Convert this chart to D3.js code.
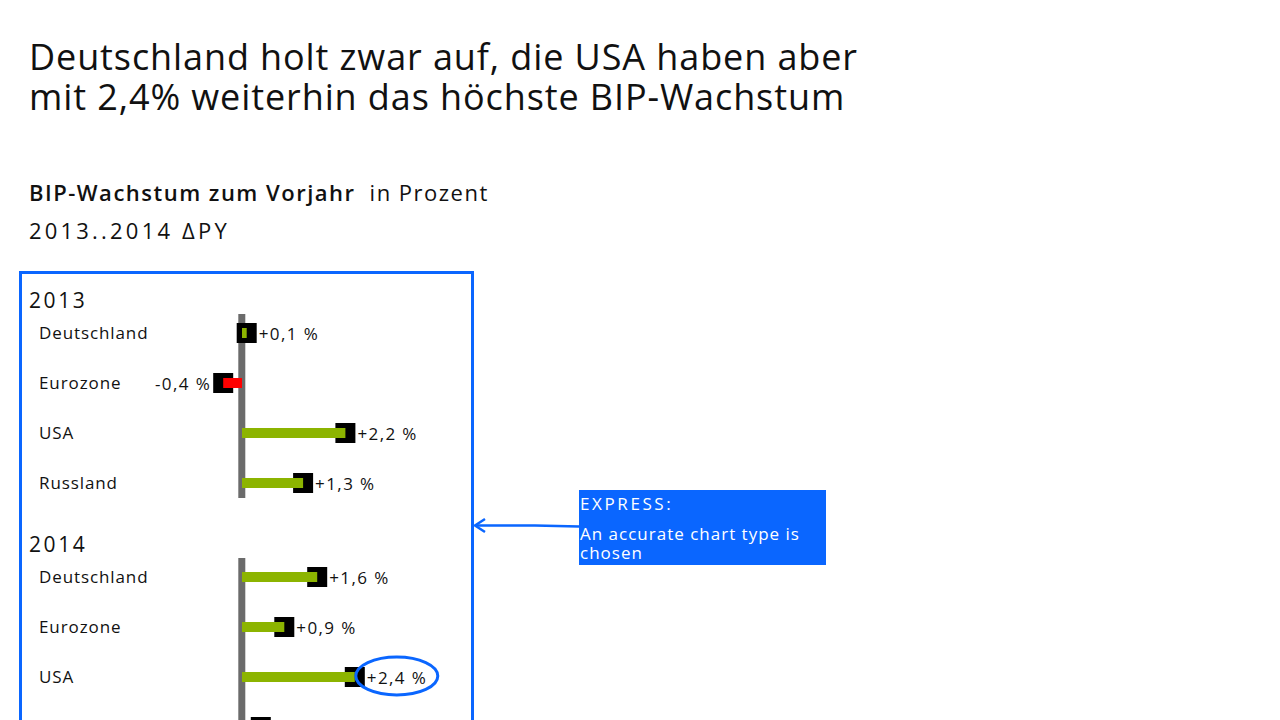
<!DOCTYPE html>
<html>
<head>
<meta charset="utf-8">
<script src="https://cdn.jsdelivr.net/npm/d3@7"></script>
<style>
  body { margin: 0; background: #fff; }
  svg { display: block; }
  text { font-family: "Open Sans", "Noto Sans", sans-serif; fill: #111; }
</style>
</head>
<body>
<div id="chart"></div>
<script>
// values
const years = ["2013", "2014"];
const countries = ["Deutschland", "Eurozone", "USA", "Russland"];
const growth2013 = [0.1, -0.4, 2.2, 1.3];
const growth2014 = [1.6, 0.9, 2.4, 0.4];
const highlight = { year: "2014", country: "USA" };

const titleLines = [
    "Deutschland holt zwar auf, die USA haben aber",
    "mit 2,4% weiterhin das höchste BIP-Wachstum"
];
const calloutLines = ["EXPRESS:", "An accurate chart type is", "chosen"];

const width = 1280, height = 720;
const blue = "#0a66ff";

const de = d3.formatLocale({ decimal: ",", thousands: ".", grouping: [3], currency: ["", " €"], minus: "-" });
const fmt = v => de.format("+.1f")(v) + " %";

const svg = d3.select("#chart").append("svg")
    .attr("width", width)
    .attr("height", height);

// title
svg.append("g").selectAll("text")
    .data(titleLines)
    .enter().append("text")
    .attr("x", 29)
    .attr("y", (d, i) => 70 + i * 40)
    .style("font-size", "36px")
    .style("letter-spacing", "0.9px")
    .text(d => d);

const sub = svg.append("text").attr("x", 29).attr("y", 201)
    .style("font-size", "22px")
    .style("letter-spacing", "1.5px");
sub.append("tspan").style("font-weight", "600").text("BIP-Wachstum zum Vorjahr");
sub.append("tspan").attr("dx", 14).text("in Prozent");

svg.append("text").attr("x", 29).attr("y", 239)
    .style("font-size", "22px")
    .style("letter-spacing", "3.2px")
    .text("2013..2014 ΔPY");

// scales
const x = d3.scaleLinear().domain([-0.5, 2.5]).range([242 - 0.5 * 47, 242 + 2.5 * 47]);
const yGroup = d3.scalePoint().domain(years).range([333, 577]);
const yRow = d3.scalePoint().domain(countries).range([0, 150]);

const rows = [];
years.forEach((yr, gi) => {
    const vals = gi === 0 ? growth2013 : growth2014;
    countries.forEach((c, i) => rows.push({ year: yr, country: c, value: vals[i] }));
});
const rowY = d => yGroup(d.year) + yRow(d.country);

// frame around the chart
svg.append("rect")
    .attr("x", 20.5).attr("y", 272.5)
    .attr("width", 452).attr("height", 520)
    .attr("fill", "none")
    .attr("stroke", blue)
    .attr("stroke-width", 3);

const groups = svg.selectAll("g.year")
    .data(years)
    .enter().append("g")
    .attr("class", "year");

groups.append("text")
    .attr("x", 29)
    .attr("y", d => yGroup(d) - 25)
    .style("font-size", "21px")
    .style("letter-spacing", "2.6px")
    .text(d => d);

// black value markers
svg.selectAll("rect.marker")
    .data(rows)
    .enter().append("rect")
    .attr("class", "marker")
    .attr("x", d => x(d.value) - 10)
    .attr("y", d => rowY(d) - 10)
    .attr("width", 20)
    .attr("height", 20)
    .attr("fill", "#000");

// axis lines
groups.append("rect")
    .attr("x", x(0) - 3.7)
    .attr("y", d => yGroup(d) - 19)
    .attr("width", 7)
    .attr("height", yRow.range()[1] + 34)
    .attr("fill", "#6b6b6b");

// bars
svg.selectAll("rect.bar")
    .data(rows)
    .enter().append("rect")
    .attr("class", "bar")
    .attr("x", d => Math.min(x(0), x(d.value)))
    .attr("y", d => rowY(d) - 5)
    .attr("width", d => Math.abs(x(d.value) - x(0)))
    .attr("height", 10)
    .attr("fill", d => d.value < 0 ? "#ff0000" : "#8cb400");

// category labels
svg.selectAll("text.cat")
    .data(rows)
    .enter().append("text")
    .attr("class", "cat")
    .attr("x", 39)
    .attr("y", d => rowY(d) + 6)
    .style("font-size", "17px")
    .style("letter-spacing", "0.9px")
    .text(d => d.country);

// value labels
svg.selectAll("text.val")
    .data(rows)
    .enter().append("text")
    .attr("class", "val")
    .attr("x", d => d.value < 0 ? x(d.value) - 12 : x(d.value) + 12)
    .attr("y", d => rowY(d) + 7)
    .attr("text-anchor", d => d.value < 0 ? "end" : "start")
    .style("font-size", "17px")
    .style("letter-spacing", "1.4px")
    .text(d => fmt(d.value));

// highlight ellipse
const hl = rows.find(d => d.year === highlight.year && d.country === highlight.country);
svg.append("ellipse")
    .attr("cx", x(hl.value) + 42)
    .attr("cy", rowY(hl) - 1)
    .attr("rx", 41)
    .attr("ry", 19)
    .attr("fill", "none")
    .attr("stroke", blue)
    .attr("stroke-width", 3);

// callout box
const callout = svg.append("g").attr("transform", "translate(579,490)");
callout.append("rect")
    .attr("width", 247)
    .attr("height", 75)
    .attr("fill", blue);
callout.selectAll("text")
    .data(calloutLines)
    .enter().append("text")
    .attr("x", 1)
    .attr("y", (d, i) => [20, 50, 69][i])
    .style("font-size", "17px")
    .style("letter-spacing", (d, i) => i === 0 ? "2.6px" : "1px")
    .style("fill", "#fff")
    .text(d => d);

// arrow to the frame
const arrow = svg.append("g")
    .attr("fill", "none")
    .attr("stroke", blue)
    .attr("stroke-width", 2.5);
arrow.append("path").attr("d", "M579,526.5 L535,525.5 L475,525.5");
arrow.append("path").attr("d", "M485,519 L475,525.5 L485,532");
</script>
</body>
</html>
